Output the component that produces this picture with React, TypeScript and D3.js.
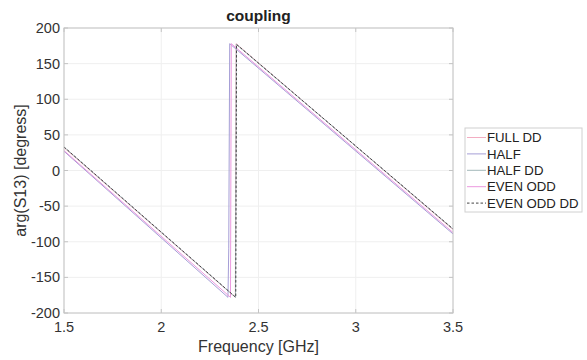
import React from "react";
import * as d3 from "d3";

const xTicks = [1.5, 2, 2.5, 3, 3.5];
const yTicks = [-200, -150, -100, -50, 0, 50, 100, 150, 200];

const seriesNames = ["FULL DD", "HALF", "HALF DD", "EVEN ODD", "EVEN ODD DD"];
const seriesColors = ["#f3adc2", "#a59ed6", "#a3b8ba", "#ec98df", "#444444"];
const seriesDash = ["", "", "", "", "2.5,2"];

const fullDDFreq = [1.5, 2.381, 2.385, 3.5];
const fullDDPhase = [32, -178, 178, -83];
const halfFreq = [1.5, 2.343, 2.347, 2.352, 3.5];
const halfPhase = [27, -178, -110, 178, -89];
const halfDDFreq = [1.5, 2.382, 2.386, 3.5];
const halfDDPhase = [33, -178, 177, -82];
const evenOddFreq = [1.5, 2.356, 2.36, 3.5];
const evenOddPhase = [28, -178, 178, -87];
const evenOddDDFreq = [1.5, 2.383, 2.387, 3.5];
const evenOddDDPhase = [33, -178, 177, -82];

const seriesFreq = [fullDDFreq, halfFreq, halfDDFreq, evenOddFreq, evenOddDDFreq];
const seriesPhase = [fullDDPhase, halfPhase, halfDDPhase, evenOddPhase, evenOddDDPhase];

export default function App() {
  const W = 587, H = 360;
  const L = 64, R = 453, T = 28, B = 313;
  const x = d3.scaleLinear().domain([1.5, 3.5]).range([L, R]);
  const y = d3.scaleLinear().domain([-200, 200]).range([B, T]);
  const line = d3.line<[number, number]>().x(d => x(d[0])).y(d => y(d[1]));
  const font = "'Liberation Sans', Arial, Helvetica, sans-serif";
  const axisColor = "#c4c4c4";
  const textColor = "#333";
  const legX = 465, legY = 128, legW = 117, legH = 84, legStep = 16.4;

  return (
    <svg width={W} height={H} style={{ position: "absolute", left: 0, top: 0, background: "#fff" }} fontFamily={font}>
      <rect x={0} y={0} width={W} height={H} fill="#fff" />
      {xTicks.map(t => (
        <line key={"gx" + t} x1={x(t)} x2={x(t)} y1={T} y2={B} stroke="#efefef" strokeWidth={1} />
      ))}
      {yTicks.map(t => (
        <line key={"gy" + t} x1={L} x2={R} y1={y(t)} y2={y(t)} stroke="#efefef" strokeWidth={1} />
      ))}
      <defs>
        <clipPath id="clip">
          <rect x={L} y={T} width={R - L} height={B - T} />
        </clipPath>
      </defs>
      <g clipPath="url(#clip)">
        {seriesNames.map((n, i) => (
          <path
            key={n}
            d={line(seriesFreq[i].map((f, j) => [f, seriesPhase[i][j]] as [number, number])) || ""}
            fill="none"
            stroke={seriesColors[i]}
            strokeWidth={1}
            strokeDasharray={seriesDash[i] || undefined}
          />
        ))}
      </g>
      <rect x={L} y={T} width={R - L} height={B - T} fill="none" stroke={axisColor} strokeWidth={1} />
      {xTicks.map(t => (
        <g key={"tx" + t}>
          <line x1={x(t)} x2={x(t)} y1={B} y2={B - 4} stroke={axisColor} />
          <line x1={x(t)} x2={x(t)} y1={T} y2={T + 4} stroke={axisColor} />
          <text x={x(t)} y={332} textAnchor="middle" fontSize={14.5} fill={textColor}>{String(t)}</text>
        </g>
      ))}
      {yTicks.map(t => (
        <g key={"ty" + t}>
          <line x1={L} x2={L + 4} y1={y(t)} y2={y(t)} stroke={axisColor} />
          <line x1={R} x2={R - 4} y1={y(t)} y2={y(t)} stroke={axisColor} />
          <text x={60} y={y(t)} dy="0.35em" textAnchor="end" fontSize={14.5} fill={textColor}>{String(t)}</text>
        </g>
      ))}
      <text x={(L + R) / 2} y={21} textAnchor="middle" fontSize={15.5} fontWeight="bold" fill="#222">coupling</text>
      <text x={(L + R) / 2} y={352} textAnchor="middle" fontSize={16} fill={textColor}>Frequency [GHz]</text>
      <text transform={`translate(26,${(T + B) / 2}) rotate(-90)`} textAnchor="middle" fontSize={16} fill={textColor}>arg(S13) [degress]</text>
      <rect x={legX} y={legY} width={legW} height={legH} fill="#fff" stroke="#d0d0d0" strokeWidth={1} />
      {seriesNames.map((n, i) => {
        const cy = legY + 9.5 + i * legStep;
        return (
          <g key={"lg" + n}>
            <line x1={legX + 2} x2={legX + 21} y1={cy} y2={cy} stroke={seriesColors[i]} strokeWidth={1} strokeDasharray={seriesDash[i] || undefined} />
            <text x={legX + 22} y={cy} dy="0.35em" fontSize={13.2} fill="#222">{n}</text>
          </g>
        );
      })}
    </svg>
  );
}
